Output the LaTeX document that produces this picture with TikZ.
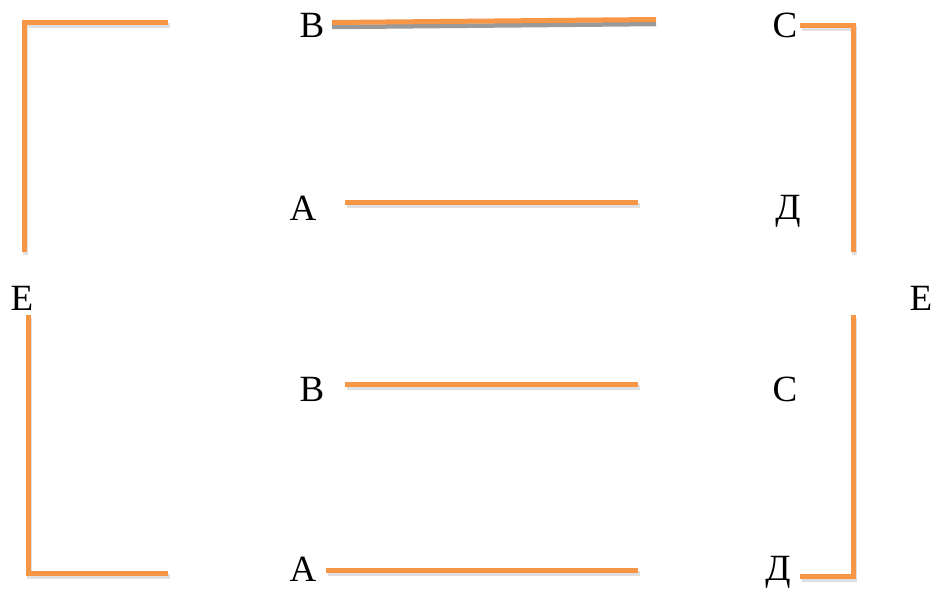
\documentclass[tikz,border=0pt]{standalone}
\usepackage{fontspec}
\setmainfont{Liberation Serif}
\definecolor{org}{HTML}{F79646}
\definecolor{shd}{HTML}{9A9A9A}
\tikzset{
  lbl/.style={font=\fontsize{37}{40}\selectfont, inner sep=0pt},
  seg/.style={draw=org, line width=5pt},
  shadowseg/.style={draw=shd, line width=5pt, opacity=0.3, shift={(1.5,3)}}
}
\begin{document}
\begin{tikzpicture}[x=1pt,y=-1pt]
\useasboundingbox (0,0) rectangle (933,589);
% shadows
\draw[shadowseg] (168,22) -- (24,22) -- (24,252);
\draw[shadowseg] (28,315) -- (28,573) -- (168,573);
\draw[shadowseg] (800,25) -- (853,25) -- (853,252);
\draw[shadowseg] (853,315) -- (853,576) -- (800,576);
\draw[shadowseg] (345,202) -- (638,202);
\draw[shadowseg] (345,384) -- (638,384);
\draw[shadowseg] (326,570) -- (638,570);
% top sloped line with grey under-line
\draw[draw=shd, line width=4.5pt] (332,27) -- (656,24);
\draw[seg] (332,22.5) -- (656,19.5);
% brackets
\draw[seg] (168,22) -- (24,22) -- (24,252);
\draw[seg] (28,315) -- (28,573) -- (168,573);
\draw[seg] (800,25) -- (853,25) -- (853,252);
\draw[seg] (853,315) -- (853,576) -- (800,576);
% horizontal bars
\draw[seg] (345,202) -- (638,202);
\draw[seg] (345,384) -- (638,384);
\draw[seg] (326,570) -- (638,570);
% labels
\node[lbl] (b1) at (312,25) {В};
\node[lbl] (c1) at (785,25) {С};
\node[lbl] (a1) at (303,208) {А};
\node[lbl] (d1) at (788,211) {Д};
\node[lbl] (e1) at (22,298) {Е};
\node[lbl] (e2) at (921,298) {Е};
\node[lbl] (b2) at (312,389) {В};
\node[lbl] (c2) at (785,389) {С};
\node[lbl] (a2) at (303,569) {А};
\node[lbl] (d2) at (778,572) {Д};
\end{tikzpicture}
\end{document}
